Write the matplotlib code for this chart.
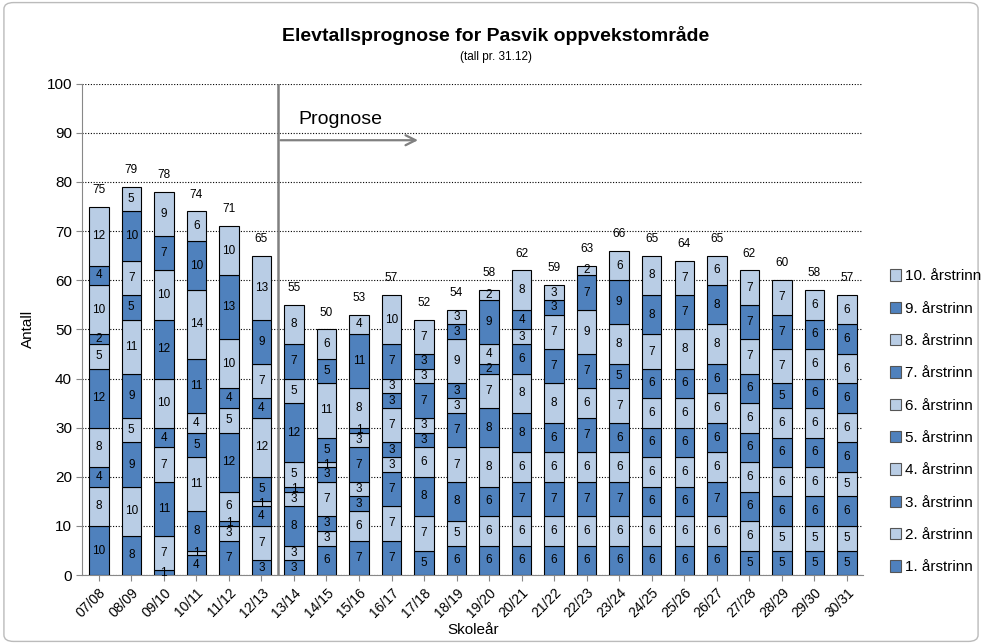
import matplotlib
matplotlib.use("Agg")
import matplotlib.pyplot as plt
import numpy as np
from matplotlib.patches import FancyBboxPatch, Patch

plt.rcParams['font.family'] = ['Liberation Sans', 'DejaVu Sans']

years = ["07/08", "08/09", "09/10", "10/11", "11/12", "12/13", "13/14", "14/15",
         "15/16", "16/17", "17/18", "18/19", "19/20", "20/21", "21/22", "22/23",
         "23/24", "24/25", "25/26", "26/27", "27/28", "28/29", "29/30", "30/31"]

grade1 = [10, 8, 1, 4, 7, 3, 3, 6, 7, 7, 5, 6, 6, 6, 6, 6, 6, 6, 6, 6, 5, 5, 5, 5]
grade2 = [8, 10, 7, 1, 3, 7, 3, 3, 6, 7, 7, 5, 6, 6, 6, 6, 6, 6, 6, 6, 6, 5, 5, 5]
grade3 = [4, 9, 11, 8, 1, 4, 8, 3, 3, 7, 8, 8, 6, 7, 7, 7, 7, 6, 6, 7, 6, 6, 6, 6]
grade4 = [8, 5, 7, 11, 6, 1, 3, 7, 3, 3, 6, 7, 8, 6, 6, 6, 6, 6, 6, 6, 6, 6, 6, 5]
grade5 = [12, 9, 4, 5, 12, 5, 1, 3, 7, 3, 3, 7, 8, 8, 6, 7, 6, 6, 6, 6, 6, 6, 6, 6]
grade6 = [5, 11, 10, 4, 5, 12, 5, 1, 3, 7, 3, 3, 7, 8, 8, 6, 7, 6, 6, 6, 6, 6, 6, 6]
grade7 = [2, 5, 12, 11, 4, 4, 12, 5, 1, 3, 7, 3, 2, 6, 7, 7, 5, 6, 6, 6, 6, 5, 6, 6]
grade8 = [10, 7, 10, 14, 10, 7, 5, 11, 8, 3, 3, 9, 4, 3, 7, 9, 8, 7, 8, 8, 7, 7, 6, 6]
grade9 = [4, 10, 7, 10, 13, 9, 7, 5, 11, 7, 3, 3, 9, 4, 3, 7, 9, 8, 7, 8, 7, 7, 6, 6]
grade10 = [12, 5, 9, 6, 10, 13, 8, 6, 4, 10, 7, 3, 2, 8, 3, 2, 6, 8, 7, 6, 7, 7, 6, 6]

grades = [grade1, grade2, grade3, grade4, grade5, grade6, grade7, grade8, grade9, grade10]
labels = [f"{i}. årstrinn" for i in range(1, 11)]

dark = "#4F81BD"
light = "#B9CDE5"

fig = plt.figure(figsize=(9.82, 6.44), dpi=100)
ax = fig.add_axes([0.084, 0.107, 0.795, 0.763])

x = np.arange(len(years))
bottom = np.zeros(len(years))
handles = []
for i, g in enumerate(grades):
    col = dark if i % 2 == 0 else light
    vals = np.array(g, dtype=float)
    ax.bar(x, vals, bottom=bottom, width=0.6, color=col, edgecolor="black",
           linewidth=0.8, zorder=3)
    for xi, v, b in zip(x, vals, bottom):
        ax.text(xi, b + v / 2, f"{int(v)}", ha="center", va="center", fontsize=8.5,
                color="black", zorder=4)
    bottom += vals
    handles.append(Patch(facecolor=col, edgecolor="#555555", linewidth=0.8, label=labels[i]))

totals = bottom
for xi, t in zip(x, totals):
    ax.text(xi, t + 2.2, f"{int(t)}", ha="center", va="bottom", fontsize=8.5, zorder=4)

ax.set_xlim(-0.5, len(years) - 0.5)
ax.set_ylim(0, 100)
ax.set_yticks(range(0, 101, 10))
ax.yaxis.grid(True, linestyle=(0, (1, 1.5)), color="black", linewidth=0.8, zorder=0)
ax.set_xticks(x)
ax.set_xticklabels(years, rotation=45, ha="right", rotation_mode="anchor", fontsize=10)
ax.tick_params(axis="y", labelsize=11, length=4, color="#888888")
ax.tick_params(axis="x", length=4, color="#888888")
for s in ["top", "right"]:
    ax.spines[s].set_visible(False)
ax.spines["left"].set_color("#888888")
ax.spines["bottom"].set_color("#888888")

ax.set_xlabel("Skoleår", fontsize=11, labelpad=2)
ax.set_ylabel("Antall", fontsize=11, labelpad=8)

# Prognose marker
ax.plot([5.5, 5.5], [0, 100], color="#808080", linewidth=1.8, zorder=5)
ax.annotate("", xy=(9.9, 88.5), xytext=(5.5, 88.5),
            arrowprops=dict(arrowstyle="->", color="#808080", lw=1.6,
                            mutation_scale=18), zorder=5)
ax.text(6.15, 91, "Prognose", fontsize=14, ha="left", va="bottom", zorder=5)

fig.text(0.505, 0.945, "Elevtallsprognose for Pasvik oppvekstområde", ha="center",
         va="center", fontsize=14, fontweight="bold")
fig.text(0.505, 0.911, "(tall pr. 31.12)", ha="center", va="center", fontsize=8.5)

fig.legend(handles=handles[::-1], loc="center left", bbox_to_anchor=(0.9, 0.345),
           frameon=False, fontsize=11, handlelength=0.75, handleheight=0.75,
           handletextpad=0.25, labelspacing=1.2, borderaxespad=0)

border = FancyBboxPatch((0.004, 0.004), 0.992, 0.992, boxstyle="round,pad=0,rounding_size=0.01",
                        transform=fig.transFigure, facecolor="none", edgecolor="#BBBBBB",
                        linewidth=1.0)
fig.patches.append(border)

fig.savefig("out.png", dpi=100)
